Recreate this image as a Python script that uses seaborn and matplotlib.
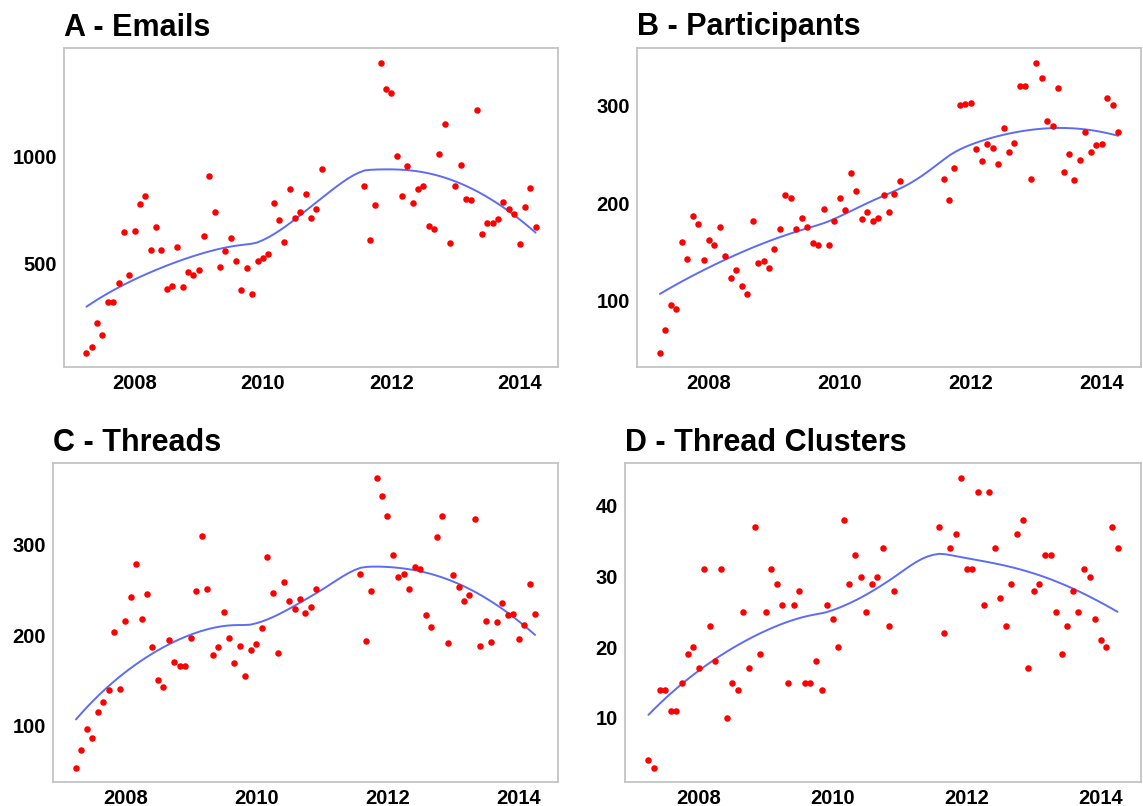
import numpy as np
import pandas as pd
import seaborn as sns
import matplotlib
matplotlib.use('Agg')
import matplotlib.pyplot as plt

# monthly observations, Jan-Jul 2011 missing
months = list(pd.date_range('2007-04-01', '2010-12-01', freq='MS')) + \
         list(pd.date_range('2011-08-01', '2014-04-01', freq='MS'))

emails = [88, 114, 227, 170, 321, 321, 411, 648, 449, 651,
          775, 815, 566, 671, 563, 383, 395, 576, 390, 460,
          446, 469, 628, 907, 742, 485, 557, 619, 514, 377,
          478, 361, 511, 528, 543, 781, 701, 602, 846, 711,
          739, 824, 710, 753, 940,
          861, 608, 773, 1434, 1312, 1292, 1000, 816, 952, 784,
          846, 861, 676, 660, 1008, 1148, 594, 860, 958, 799,
          798, 1213, 639, 690, 691, 707, 785, 755, 730, 593,
          765, 853, 671]

participants = [47, 70, 96, 92, 160, 143, 187, 179, 142, 162,
                157, 176, 146, 123, 132, 115, 107, 182, 139, 141,
                134, 153, 173, 208, 205, 173, 185, 176, 159, 157,
                194, 157, 182, 205, 193, 231, 212, 184, 191, 182,
                185, 208, 191, 209, 223,
                225, 203, 236, 300, 301, 303, 255, 243, 261, 256,
                240, 277, 252, 262, 320, 320, 225, 344, 328, 284,
                279, 318, 232, 250, 224, 244, 273, 252, 260, 261,
                308, 300, 273]

threads = [54, 73, 97, 87, 115, 126, 139, 203, 141, 216,
           242, 279, 218, 245, 187, 151, 143, 195, 170, 166,
           166, 197, 249, 310, 251, 178, 187, 226, 197, 169,
           188, 155, 184, 190, 208, 286, 247, 180, 259, 238,
           229, 240, 225, 231, 251,
           267, 194, 249, 374, 354, 332, 288, 264, 268, 251,
           275, 273, 222, 209, 308, 332, 191, 266, 253, 238,
           244, 328, 188, 216, 192, 215, 236, 222, 223, 196,
           211, 256, 223]

clusters = [4, 3, 14, 14, 11, 11, 15, 19, 20, 17,
            31, 23, 18, 31, 10, 15, 14, 25, 17, 37,
            19, 25, 31, 29, 26, 15, 26, 28, 15, 15,
            18, 14, 26, 24, 20, 38, 29, 33, 30, 25,
            29, 30, 34, 23, 28,
            37, 22, 34, 36, 44, 31, 31, 42, 26, 42,
            34, 27, 23, 29, 36, 38, 17, 28, 29, 33,
            33, 25, 19, 23, 28, 25, 31, 30, 24, 21,
            20, 37, 34]

titles = ['A - Emails', 'B - Participants', 'C - Threads', 'D - Thread Clusters']
series = [emails, participants, threads, clusters]
yticks = [[500, 1000], [100, 200, 300], [100, 200, 300], [10, 20, 30, 40]]
xticks = [2008, 2010, 2012, 2014]


def loess(x, y, xs, span=0.75):
    """local quadratic fit with tricube weights (like R's loess)"""
    n = len(x)
    q = int(np.floor(n * span))
    fit = []
    for x0 in xs:
        d = np.abs(x - x0)
        h = np.sort(d)[q - 1]
        w = np.clip(1 - (d / h) ** 3, 0, None) ** 3
        X = np.vstack([np.ones(n), x - x0, (x - x0) ** 2]).T
        sw = np.sqrt(w)
        beta = np.linalg.lstsq(X * sw[:, None], y * sw, rcond=None)[0]
        fit.append(beta[0])
    return np.array(fit)


sns.set_style('white')
plt.rcParams['font.family'] = ['Liberation Sans', 'DejaVu Sans']

fig = plt.figure(figsize=(11.43, 8.06), dpi=100)
W, H = 1143, 806
boxes = [(64, 48, 558, 367), (637, 48, 1141, 367),
         (53, 463, 558, 782), (625, 463, 1141, 782)]

year = np.array([m.year + (m.month - 1) / 12 for m in months])

for box, title, vals, yt in zip(boxes, titles, series, yticks):
    l, t, r, b = box
    ax = fig.add_axes([l / W, 1 - b / H, (r - l) / W, (b - t) / H])
    df = pd.DataFrame({'year': year, 'value': vals})
    xs = np.linspace(year.min(), year.max(), 80)
    smooth = loess(df.year.values, df.value.values.astype(float), xs)

    sns.scatterplot(ax=ax, data=df, x='year', y='value', color='#ff0000',
                    s=22, linewidth=0, zorder=3)
    sns.lineplot(ax=ax, x=xs, y=smooth, color='#5c6cf8', lw=1.4, zorder=2)

    ax.set_xticks(xticks)
    ax.set_yticks(yt)
    ax.set_xlabel(None)
    ax.set_ylabel(None)
    ax.tick_params(axis='both', length=3, width=1, color='#b0b0b0',
                   labelsize=14.5, labelcolor='black', pad=2)
    for lab in ax.get_xticklabels() + ax.get_yticklabels():
        lab.set_fontweight('bold')
    for sp in ax.spines.values():
        sp.set_color('#c4c4c4')
        sp.set_linewidth(1.3)
    ax.set_title(title, loc='left', fontsize=22, fontweight='bold',
                 color='black', pad=9)

fig.savefig('out.png', dpi=100)
